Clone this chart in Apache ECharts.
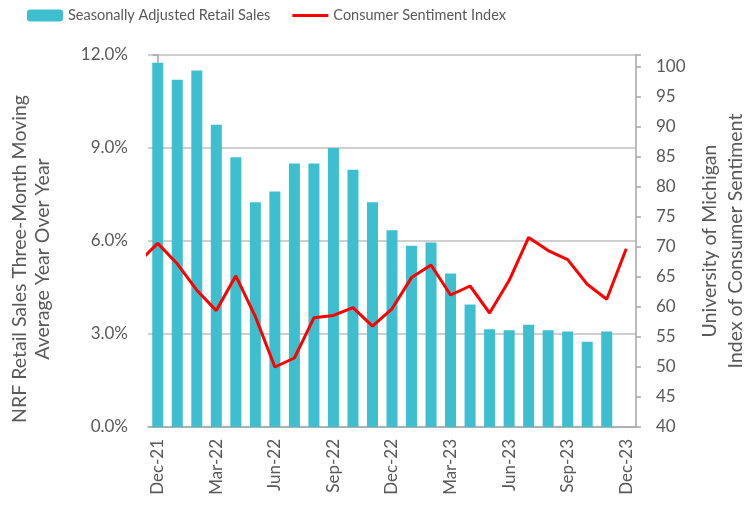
<!DOCTYPE html>
<html>
<head>
<meta charset="utf-8">
<script src="https://cdn.jsdelivr.net/npm/echarts@6/dist/echarts.min.js"></script>
<style>
  html, body { margin: 0; padding: 0; background: #fff; }
  #chart { width: 745px; height: 508px; }
</style>
</head>
<body>
<div id="chart"></div>
<script>
// months on the bar axis
var months = ["Dec-21", "Jan-22", "Feb-22", "Mar-22", "Apr-22", "May-22", "Jun-22", "Jul-22",
  "Aug-22", "Sep-22", "Oct-22", "Nov-22", "Dec-22", "Jan-23", "Feb-23", "Mar-23", "Apr-23",
  "May-23", "Jun-23", "Jul-23", "Aug-23", "Sep-23", "Oct-23", "Nov-23", "Dec-23"];

// NRF retail sales, 3-month moving avg yoy (%)
var retailSales = [11.75, 11.2, 11.5, 9.75, 8.7, 7.25, 7.6, 8.5, 8.5, 9.0, 8.3, 7.25,
  6.35, 5.85, 5.95, 4.95, 3.95, 3.15, 3.12, 3.3, 3.12, 3.08, 2.75, 3.08, null];

// UMich sentiment; the line starts one month earlier (Nov-21) and is clipped at the edge
var sentimentMonths = ["Nov-21"].concat(months);
var sentiment = [67.4, 70.6, 67.2, 62.8, 59.4, 65.2, 58.4, 50.0, 51.5, 58.2, 58.6, 59.9, 56.8,
  59.7, 64.9, 67.0, 62.0, 63.5, 59.0, 64.4, 71.6, 69.4, 67.9, 63.8, 61.3, 69.7];

var textColor = "#595959";
var axisColor = "#a6a6a6";
var font = "Lato, 'Open Sans', sans-serif";

var chart = echarts.init(document.getElementById("chart"));

// line points placed on a hidden value axis so they sit on the bar centres
var lineData = sentiment.map(function (v, i) {
  return [i - 1, v];
});

var option = {
  animation: false,
  textStyle: { fontFamily: font },
  legend: {
    top: 8,
    left: 27,
    padding: 0,
    itemWidth: 36,
    itemHeight: 12,
    itemGap: 22,
    textStyle: { color: textColor, fontSize: 14.5, fontFamily: font },
    data: [
      { name: "Seasonally Adjusted Retail Sales" },
      { name: "Consumer Sentiment Index", icon: "path://M0,0H36V3H0Z" }
    ]
  },
  grid: { left: 148, right: 109, top: 55, bottom: 81, outerBoundsMode: "none" },
  xAxis: [
    {
      type: "category",
      data: months,
      axisLine: { lineStyle: { color: axisColor, width: 1.5 } },
      axisTick: { interval: 2, length: 5, lineStyle: { color: axisColor, width: 1.5 } },
      axisLabel: {
        interval: 2,
        rotate: 90,
        margin: 12,
        color: textColor,
        fontSize: 17,
        fontFamily: font
      }
    },
    {
      type: "value",
      min: -0.5,
      max: 24.5,
      show: false
    }
  ],
  yAxis: [
    {
      type: "value",
      min: 0,
      max: 12,
      interval: 3,
      name: "NRF Retail Sales Three-Month Moving\nAverage Year Over Year",
      nameLocation: "middle",
      nameGap: 94,
      nameTextStyle: {
        color: textColor, fontSize: 19.5, lineHeight: 23, fontFamily: font,
        padding: [0, 36, 0, 0]
      },
      axisLine: { show: true, lineStyle: { color: axisColor, width: 1.5 } },
      axisTick: { show: true, length: 5, lineStyle: { color: axisColor, width: 1.5 } },
      axisLabel: {
        margin: 20,
        color: textColor,
        fontSize: 17,
        fontFamily: font,
        formatter: function (v) { return v.toFixed(1) + "%"; }
      },
      splitLine: { lineStyle: { color: "#bfbfbf", width: 1.5 } }
    },
    {
      type: "value",
      min: 40,
      max: 102,
      interval: 5,
      position: "right",
      name: "University of Michigan\nIndex of Consumer Sentiment",
      nameLocation: "middle",
      nameGap: 59,
      nameTextStyle: { color: textColor, fontSize: 19.5, lineHeight: 26, fontFamily: font },
      axisLine: { show: true, lineStyle: { color: axisColor, width: 1.5 } },
      axisTick: { show: true, length: 5, lineStyle: { color: axisColor, width: 1.5 } },
      axisLabel: {
        margin: 20,
        color: textColor,
        fontSize: 17,
        fontFamily: font,
        formatter: function (v) { return v > 100 ? "" : String(v); }
      },
      splitLine: { show: false }
    }
  ],
  series: [
    {
      name: "Seasonally Adjusted Retail Sales",
      type: "bar",
      xAxisIndex: 0,
      yAxisIndex: 0,
      data: retailSales,
      barWidth: 11,
      itemStyle: { color: "#3dbfcf" }
    },
    {
      name: "Consumer Sentiment Index",
      type: "line",
      xAxisIndex: 1,
      yAxisIndex: 1,
      data: lineData,
      symbol: "none",
      clip: true,
      lineStyle: { color: "#ff0000", width: 3 },
      itemStyle: { color: "#ff0000" }
    }
  ]
};

chart.setOption(option);
</script>
</body>
</html>
